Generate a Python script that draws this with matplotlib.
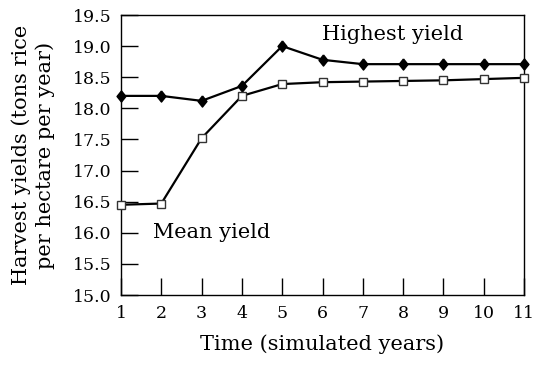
import matplotlib.pyplot as plt

years = [1, 2, 3, 4, 5, 6, 7, 8, 9, 10, 11]
highest_yield = [18.2, 18.2, 18.12, 18.36, 19.0, 18.78, 18.71, 18.71, 18.71, 18.71, 18.71]
mean_yield = [16.45, 16.47, 17.52, 18.2, 18.39, 18.42, 18.43, 18.44, 18.45, 18.47, 18.49]
y_ticks = [15.0, 15.5, 16.0, 16.5, 17.0, 17.5, 18.0, 18.5, 19.0, 19.5]

plt.rcParams['font.family'] = 'DejaVu Serif'

# diamond a bit narrower than tall, like the original
diamond = [(0, 1), (0.8, 0), (0, -1), (-0.8, 0), (0, 1)]

fig = plt.figure(figsize=(5.33, 3.68), dpi=100)
ax = fig.add_axes([121 / 533, 1 - 295 / 368, 403 / 533, 280 / 368])

ax.plot(years, highest_yield, color='black', linewidth=1.6, marker=diamond,
        markersize=8, markerfacecolor='black', clip_on=False, zorder=3)
ax.plot(years, mean_yield, color='black', linewidth=1.6, marker='s',
        markersize=6, markerfacecolor='white', markeredgecolor='#333333',
        markeredgewidth=1, clip_on=False, zorder=3)

ax.set_xlim(1, 11)
ax.set_ylim(15.0, 19.5)
ax.set_xticks(years)
ax.set_yticks(y_ticks)
ax.set_yticklabels([f'{v:.1f}' for v in y_ticks])
ax.tick_params(direction='in', length=12, width=1, labelsize=12.5, pad=7)
for s in ax.spines.values():
    s.set_linewidth(1)

ax.text(7.75, 19.03, 'Highest yield', fontsize=15, ha='center', va='bottom')
ax.text(1.79, 16.01, 'Mean yield', fontsize=15, ha='left', va='center')

ax.set_xlabel('Time (simulated years)', fontsize=15, labelpad=9)
ax.set_ylabel('Harvest yields (tons rice\nper hectare per year)', fontsize=15,
              linespacing=1.25)
ax.yaxis.set_label_coords(-0.165, 0.5)

fig.savefig('out.png', dpi=100)
